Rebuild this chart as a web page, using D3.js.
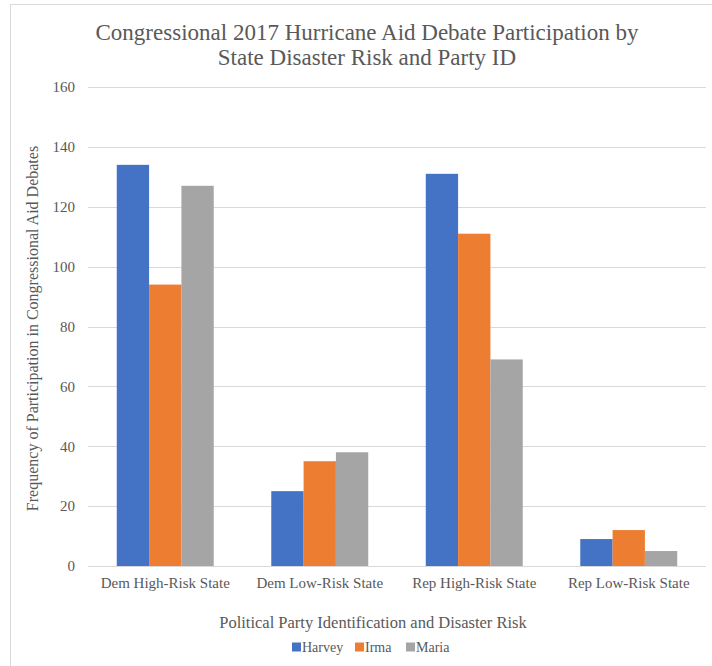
<!DOCTYPE html>
<html>
<head>
<meta charset="utf-8">
<script src="https://cdn.jsdelivr.net/npm/d3@7"></script>
<style>
  body { margin: 0; background: #fff; }
  text { font-family: "Liberation Serif", "Times New Roman", serif; fill: #595959; }
</style>
</head>
<body>
<svg id="chart" width="712" height="666"></svg>
<script>
const categories = ['Dem High-Risk State', 'Dem Low-Risk State', 'Rep High-Risk State', 'Rep Low-Risk State']
const seriesNames = ['Harvey', 'Irma', 'Maria']
const harvey = [134, 25, 131, 9]
const irma = [94, 35, 111, 12]
const maria = [127, 38, 69, 5]
const yTicks = [0, 20, 40, 60, 80, 100, 120, 140, 160]
const colors = ['#4472c4', '#ed7d31', '#a5a5a5']

const values = [harvey, irma, maria]
const svg = d3.select('#chart')

// outer frame of the chart area
svg.append('rect')
  .attr('x', 10.5).attr('y', 4.5)
  .attr('width', 720).attr('height', 680)
  .attr('fill', 'none').attr('stroke', '#d9d9d9')

const plotLeft = 88
const plotRight = 706
const plotTop = 87
const plotBottom = 566

const y = d3.scaleLinear().domain([0, 160]).range([plotBottom, plotTop])
const x0 = d3.scaleBand().domain(categories).range([plotLeft, plotRight])
const x1 = d3.scaleBand().domain(seriesNames)
  .range([0, x0.bandwidth()])
  .paddingOuter(0.89)

// gridlines
svg.append('g').selectAll('line')
  .data(yTicks.slice(1))
  .join('line')
  .attr('x1', plotLeft).attr('x2', plotRight)
  .attr('y1', d => Math.round(y(d)) + 0.5)
  .attr('y2', d => Math.round(y(d)) + 0.5)
  .attr('stroke', '#d9d9d9')

// y tick labels
svg.append('g').selectAll('text')
  .data(yTicks)
  .join('text')
  .attr('x', 75)
  .attr('y', d => y(d))
  .attr('dy', '0.35em')
  .attr('text-anchor', 'end')
  .attr('font-size', 15)
  .text(d => d)

// bars
seriesNames.forEach((name, i) => {
  svg.append('g').selectAll('rect')
    .data(categories)
    .join('rect')
    .attr('x', c => x0(c) + x1(name))
    .attr('y', (c, j) => y(values[i][j]))
    .attr('width', x1.bandwidth())
    .attr('height', (c, j) => plotBottom - y(values[i][j]))
    .attr('fill', colors[i])
})

// baseline
svg.append('line')
  .attr('x1', plotLeft).attr('x2', plotRight)
  .attr('y1', plotBottom + 0.5).attr('y2', plotBottom + 0.5)
  .attr('stroke', '#d9d9d9')

// category labels
svg.append('g').selectAll('text')
  .data(categories)
  .join('text')
  .attr('x', c => x0(c) + x0.bandwidth() / 2)
  .attr('y', 588)
  .attr('text-anchor', 'middle')
  .attr('font-size', 15)
  .text(c => c)

// title
const title = svg.append('text')
  .attr('text-anchor', 'middle')
  .attr('font-size', 23)
title.append('tspan').attr('x', 367).attr('y', 40)
  .text('Congressional 2017 Hurricane Aid Debate Participation by')
title.append('tspan').attr('x', 367).attr('y', 65)
  .text('State Disaster Risk and Party ID')

// axis titles
svg.append('text')
  .attr('transform', `translate(38,${(plotTop + plotBottom) / 2 + 2}) rotate(-90)`)
  .attr('text-anchor', 'middle')
  .attr('font-size', 16)
  .text('Frequency of Participation in Congressional Aid Debates')

svg.append('text')
  .attr('x', 373).attr('y', 628)
  .attr('text-anchor', 'middle')
  .attr('font-size', 16.5)
  .text('Political Party Identification and Disaster Risk')

// legend
const legendX = [292, 355, 406]
const legend = svg.append('g').selectAll('g')
  .data(seriesNames)
  .join('g')
  .attr('transform', (d, i) => `translate(${legendX[i]},647)`)
legend.append('rect')
  .attr('x', 0).attr('y', -4.5)
  .attr('width', 9).attr('height', 9)
  .attr('fill', (d, i) => colors[i])
legend.append('text')
  .attr('x', 10).attr('y', 0)
  .attr('dy', '0.35em')
  .attr('font-size', 14)
  .text(d => d)
</script>
</body>
</html>
